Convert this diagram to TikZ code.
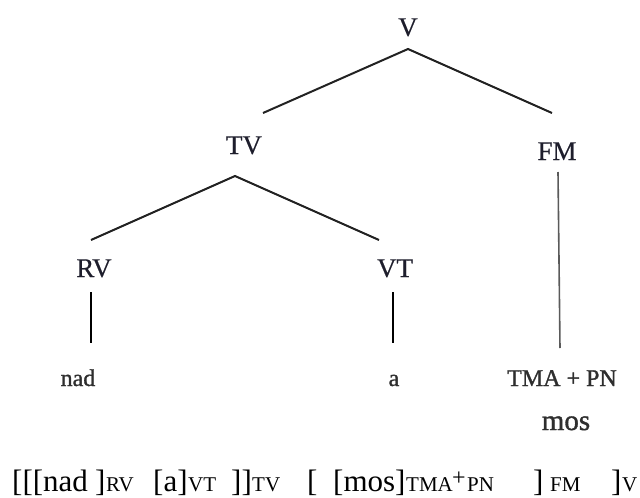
\documentclass[tikz,border=0pt]{standalone}
\usepackage{fontspec}
\setmainfont{Liberation Serif}
\newfontfamily\leaffont[FakeBold=1.2]{Liberation Serif}
\newfontfamily\catfont[FakeBold=0.4]{Liberation Serif}
\usetikzlibrary{positioning}

\definecolor{catcol}{HTML}{1E1E2C}
\definecolor{leafcol}{HTML}{2E2E2E}
\definecolor{linecol}{HTML}{222222}
\definecolor{stemcol}{HTML}{5A5A5A}

\begin{document}
\begin{tikzpicture}[x=1pt,y=-1pt,            % pixel-like units, y downwards
    cat/.style={font=\catfont\fontsize{27}{30}\selectfont,text=catcol,inner sep=0pt,anchor=base},
    leaf/.style={font=\leaffont\fontsize{24}{28}\selectfont,text=leafcol,inner sep=0pt,anchor=base},
    branch/.style={draw=linecol,line width=2pt},
    stem/.style={draw=black,line width=2.6pt},
    longstem/.style={draw=stemcol,line width=1.6pt},
    big/.style={font=\fontsize{31}{34}\selectfont,inner sep=0pt,anchor=base west},
    sub/.style={font=\fontsize{21}{24}\selectfont,inner sep=0pt,anchor=base west}]

\useasboundingbox (0,0) rectangle (640,498);

% ---------------------------------------------------------------
% Category labels
\node[cat] (V)  at (408,36)  {V};
\node[cat] (TV) at (244,154) {TV};
\node[cat] (FM) at (557,160) {FM};
\node[cat] (RV) at (94,277)  {RV};
\node[cat] (VT) at (395,277) {VT};

% Leaves
\node[leaf] (nad)   at (78,386)  {nad};
\node[leaf] (a)     at (394,386) {a};
\node[leaf] (tmapn) at (562,386) {TMA + PN};
\node[leaf,font=\leaffont\fontsize{29}{32}\selectfont] (mos) at (566,430) {mos};

% ---------------------------------------------------------------
% Branch end points
\coordinate (V-b)  at ([yshift=-13pt]V.base);
\coordinate (TV-t) at (263,113);
\coordinate (FM-t) at (552,113);
\coordinate (TV-b) at (235,176);
\coordinate (RV-t) at (91,240);
\coordinate (VT-t) at (379,240);

\draw[branch] (TV-t) -- (V-b) -- (FM-t);
\draw[branch] (RV-t) -- (TV-b) -- (VT-t);

% Stems down to the leaves
\draw[stem] (91,292) coordinate (RV-s) -- (91,343) coordinate (nad-s);
\draw[stem] (393,292) coordinate (VT-s) -- (393,343) coordinate (a-s);
\draw[longstem] (558,172) coordinate (FM-s) -- (560,348) coordinate (tmapn-s);

% ---------------------------------------------------------------
% Bracketed form
\node[big] (br1)  at (12,491)  {[[[nad};
\node[big] (br2)  at (95,491)  {]};
\node[sub] (sb1)  at (106,491) {RV};
\node[big] (br3)  at (153,491) {[a]};
\node[sub] (sb2)  at (188,491) {VT};
\node[big] (br4)  at (231,491) {]]};
\node[sub] (sb3)  at (252,491) {TV};
\node[big] (br5)  at (307,491) {[};
\node[big] (br6)  at (333,491) {[mos]};
\node[sub] (sb4)  at (406,491) {TMA};
\node[sub,font=\fontsize{24}{26}\selectfont] (plus) at (452,485) {+};
\node[sub] (sb5)  at (467,491) {PN};
\node[big] (br7)  at (533,491) {]};
\node[sub] (sb6)  at (550,491) {FM};
\node[big] (br8)  at (611,491) {]};
\node[sub] (sb7)  at (622,491) {V};

\end{tikzpicture}
\end{document}
